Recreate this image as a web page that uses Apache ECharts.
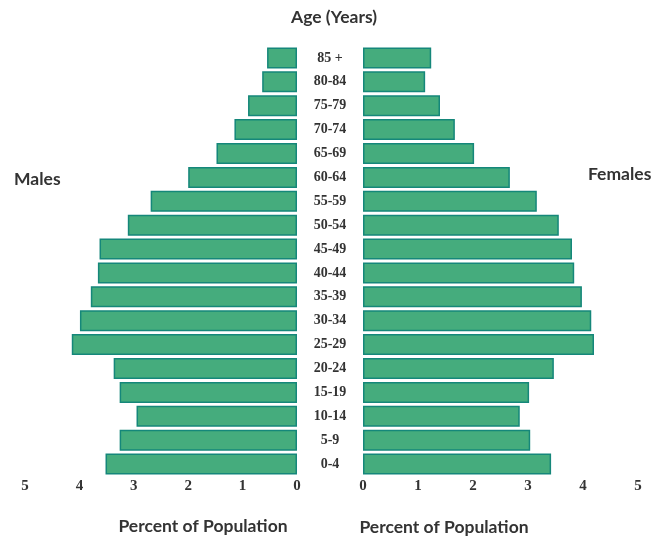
<!DOCTYPE html>
<html>
<head>
<meta charset="utf-8">
<script src="https://cdn.jsdelivr.net/npm/echarts@6/dist/echarts.min.js"></script>
<style>
  html, body { margin: 0; padding: 0; background: #fff; }
  #chart { width: 662px; height: 536px; }
</style>
</head>
<body>
<div id="chart"></div>
<script>
// age groups, top to bottom in the picture
const ageGroups = ['85 +', '80-84', '75-79', '70-74', '65-69', '60-64', '55-59', '50-54', '45-49',
  '40-44', '35-39', '30-34', '25-29', '20-24', '15-19', '10-14', '5-9', '0-4']
const males = [0.55, 0.64, 0.9, 1.15, 1.48, 2.0, 2.69, 3.11, 3.63, 3.66, 3.79, 3.99, 4.14, 3.37, 3.26, 2.95, 3.26, 3.52]
const females = [1.24, 1.13, 1.4, 1.67, 2.02, 2.67, 3.16, 3.56, 3.8, 3.84, 3.98, 4.15, 4.2, 3.47, 3.02, 2.85, 3.04, 3.42]
const percentTicks = [0, 1, 2, 3, 4, 5]

const barFill = '#45ac7d'
const barEdge = '#15877a'
const txt = '#333'
const sans = 'Lato, "Open Sans", sans-serif'
const serif = '"Liberation Serif", "DejaVu Serif", serif'

const chart = echarts.init(document.getElementById('chart'))

const headStyle = { fontFamily: sans, fontWeight: 'bold', fontSize: 17.5, color: txt }

const xAxisBase = {
  type: 'value',
  min: percentTicks[0],
  max: percentTicks[percentTicks.length - 1],
  interval: 1,
  axisLine: { show: false },
  axisTick: { show: false },
  splitLine: { show: false },
  axisLabel: { color: txt, fontFamily: serif, fontWeight: 'bold', fontSize: 15, margin: 3 }
}

const barBase = {
  type: 'bar',
  barCategoryGap: '12%',
  itemStyle: { color: barFill, borderColor: barEdge, borderWidth: 1.5 },
  silent: true
}

chart.setOption({
  animation: false,
  title: [
    { text: 'Age (Years)', left: 334, top: 8, padding: 0, textAlign: 'center', textStyle: headStyle },
    { text: 'Males', left: 14, top: 170, padding: 0, textStyle: headStyle },
    { text: 'Females', left: 588, top: 165, padding: 0, textStyle: headStyle },
    { text: 'Percent of Population', left: 203, top: 517, padding: 0, textAlign: 'center', textStyle: headStyle },
    { text: 'Percent of Population', left: 444, top: 518, padding: 0, textAlign: 'center', textStyle: headStyle }
  ],
  grid: [
    { left: 25, width: 272, top: 46, height: 430 },
    { left: 363, width: 275, top: 46, height: 430 }
  ],
  xAxis: [
    Object.assign({ gridIndex: 0, inverse: true }, xAxisBase),
    Object.assign({ gridIndex: 1 }, xAxisBase)
  ],
  yAxis: [
    {
      type: 'category', gridIndex: 0, data: ageGroups, inverse: true, position: 'right',
      axisLine: { show: false }, axisTick: { show: false },
      axisLabel: { color: txt, fontFamily: serif, fontWeight: 'bold', fontSize: 14, margin: 33, align: 'center' }
    },
    {
      type: 'category', gridIndex: 1, data: ageGroups, inverse: true,
      axisLine: { show: false }, axisTick: { show: false }, axisLabel: { show: false }
    }
  ],
  series: [
    Object.assign({ name: 'Males', xAxisIndex: 0, yAxisIndex: 0, data: males }, barBase),
    Object.assign({ name: 'Females', xAxisIndex: 1, yAxisIndex: 1, data: females }, barBase)
  ]
})
</script>
</body>
</html>
